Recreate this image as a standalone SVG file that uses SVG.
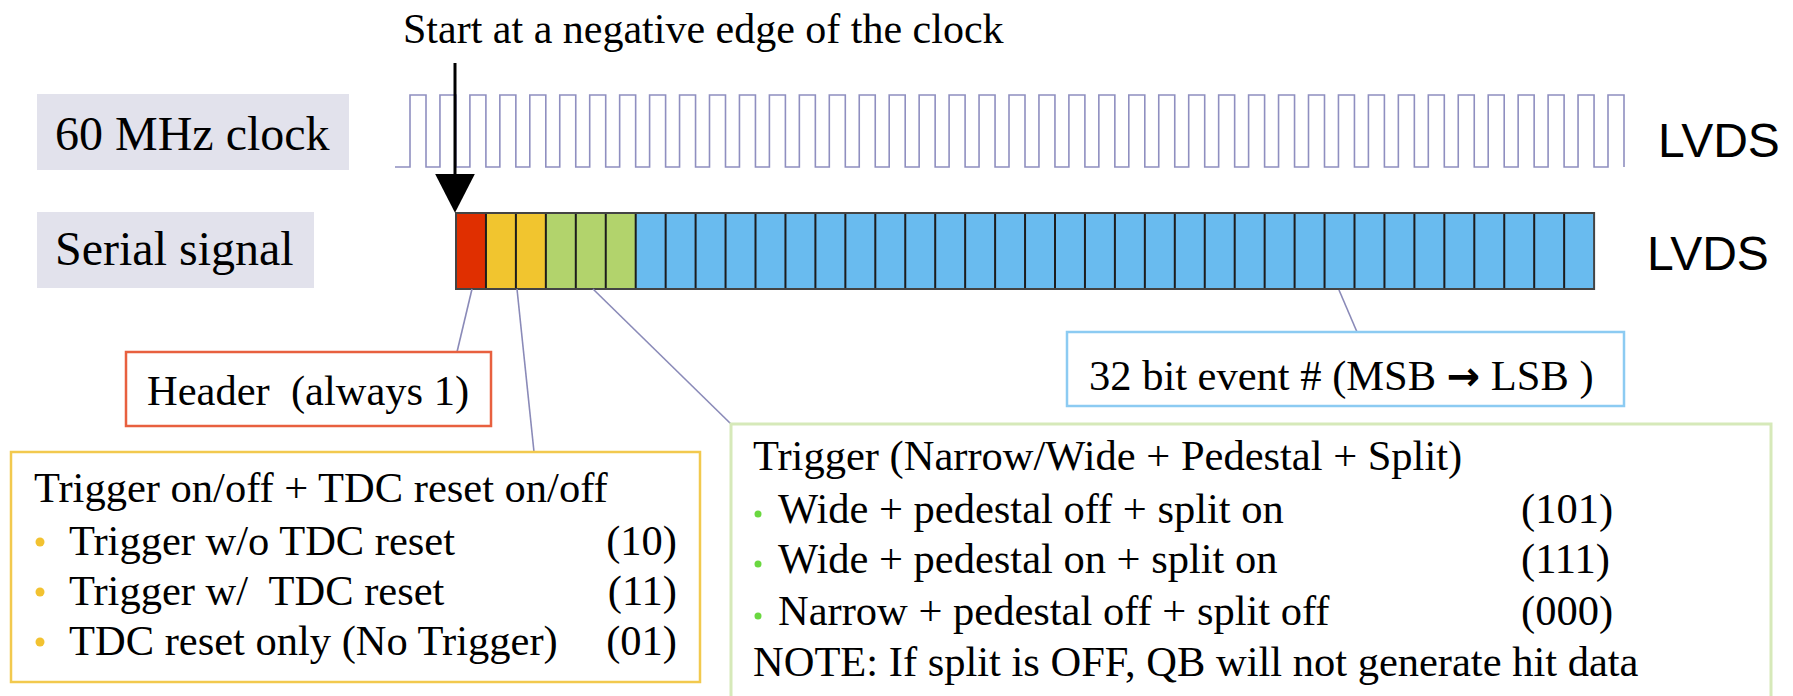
<svg xmlns="http://www.w3.org/2000/svg" width="1793" height="696" viewBox="0 0 1793 696">
  <style>
    .serif { font-family: "Liberation Serif", "Times New Roman", serif; fill: #000; }
    .lbl { font-size: 48px; }
    .txt { font-size: 42.5px; white-space: pre; }
    .sans { font-family: "Liberation Sans", Arial, sans-serif; font-size: 48px; fill: #000; }
    .lblbox { fill: #e2e2ec; stroke: none; }
    .conn { stroke: #8a8ab8; stroke-width: 1.6; fill: none; }
    .div { stroke: #1c1c1c; stroke-width: 2; fill: none; }
  </style>
  <defs>
    <marker id="ah" markerUnits="userSpaceOnUse" markerWidth="40" markerHeight="40" viewBox="0 0 38 38" refX="25" refY="19" orient="auto">
      <path d="M0,0 L37,19 L0,38 z" fill="#000"/>
    </marker>
  </defs>
  <rect width="1793" height="696" fill="#fff"/>

  <g id="title">
    <text class="serif" x="403" y="43" font-size="42">Start at a negative edge of the clock</text>
  </g>

  <g id="clock-label">
    <rect class="lblbox" x="37" y="94" width="312" height="76"/>
    <text class="serif lbl" x="55" y="150">60 MHz clock</text>
  </g>
  <g id="serial-label">
    <rect class="lblbox" x="37" y="212" width="277" height="76"/>
    <text class="serif lbl" x="55" y="265">Serial signal</text>
  </g>

  <g id="clock">
    <path fill="none" stroke="#8f8fc0" stroke-width="1.6" d="M395,167 H410 V95 h16 V167
      h13.95V95h16V167 h13.95V95h16V167 h13.95V95h16V167 h13.95V95h16V167 h13.95V95h16V167 h13.95V95h16V167 h13.95V95h16V167 h13.95V95h16V167 h13.95V95h16V167 h13.95V95h16V167
      h13.95V95h16V167 h13.95V95h16V167 h13.95V95h16V167 h13.95V95h16V167 h13.95V95h16V167 h13.95V95h16V167 h13.95V95h16V167 h13.95V95h16V167 h13.95V95h16V167 h13.95V95h16V167
      h13.95V95h16V167 h13.95V95h16V167 h13.95V95h16V167 h13.95V95h16V167 h13.95V95h16V167 h13.95V95h16V167 h13.95V95h16V167 h13.95V95h16V167 h13.95V95h16V167 h13.95V95h16V167
      h13.95V95h16V167 h13.95V95h16V167 h13.95V95h16V167 h13.95V95h16V167 h13.95V95h16V167 h13.95V95h16V167 h13.95V95h16V167 h13.95V95h16V167 h13.95V95h16V167 h13.95V95h16V167"/>
  </g>

  <g id="lvds-clock"><text class="sans" x="1658" y="157">LVDS</text></g>
  <g id="lvds-serial"><text class="sans" x="1647" y="270" font-size="47">LVDS</text></g>

  <g id="serial-bar">
    <rect x="456" y="213" width="29.95" height="76" fill="#e02f00"/>
    <rect x="485.95" y="213" width="59.9" height="76" fill="#f1c52f"/>
    <rect x="545.85" y="213" width="89.85" height="76" fill="#b2d36c"/>
    <rect x="635.7" y="213" width="958.4" height="76" fill="#69bbef"/>
    <path class="div" d="M485.95,213V289 M515.9,213V289 M545.85,213V289 M575.8,213V289 M605.75,213V289 M635.7,213V289 M665.65,213V289 M695.6,213V289 M725.55,213V289 M755.5,213V289 M785.45,213V289 M815.4,213V289 M845.35,213V289 M875.3,213V289 M905.25,213V289 M935.2,213V289 M965.15,213V289 M995.1,213V289 M1025.05,213V289 M1055,213V289 M1084.95,213V289 M1114.9,213V289 M1144.85,213V289 M1174.8,213V289 M1204.75,213V289 M1234.7,213V289 M1264.65,213V289 M1294.6,213V289 M1324.55,213V289 M1354.5,213V289 M1384.45,213V289 M1414.4,213V289 M1444.35,213V289 M1474.3,213V289 M1504.25,213V289 M1534.2,213V289 M1564.15,213V289"/>
    <rect x="456" y="213" width="1138.1" height="76" fill="none" stroke="#444" stroke-width="2"/>
  </g>

  <g id="connectors">
    <line x1="455" y1="63" x2="455" y2="200" stroke="#000" stroke-width="3" marker-end="url(#ah)"/>
    <line class="conn" x1="472" y1="289" x2="457" y2="352"/>
    <line class="conn" x1="517" y1="289" x2="534" y2="452"/>
    <line class="conn" x1="593" y1="289" x2="731" y2="424"/>
    <line class="conn" x1="1339" y1="290" x2="1357" y2="332"/>
  </g>

  <g id="header-box">
    <rect x="126" y="352" width="365" height="74" fill="#fff" stroke="#e8603f" stroke-width="2.5"/>
    <text class="serif txt" x="147" y="405">Header  (always 1)</text>
  </g>

  <g id="trigger-tdc-box">
    <rect x="11" y="452" width="689" height="230" fill="#fff" stroke="#f2c94e" stroke-width="2.5"/>
    <text class="serif txt" x="34" y="502">Trigger on/off + TDC reset on/off</text>
    <g fill="#f2c230">
      <circle cx="40" cy="542" r="4.5"/>
      <circle cx="40" cy="592" r="4.5"/>
      <circle cx="40" cy="642" r="4.5"/>
    </g>
    <text class="serif txt" x="69" y="555">Trigger w/o TDC reset</text>
    <text class="serif txt" x="69" y="605">Trigger w/  TDC reset</text>
    <text class="serif txt" x="69" y="655">TDC reset only (No Trigger)</text>
    <text class="serif txt" x="677" y="555" text-anchor="end">(10)</text>
    <text class="serif txt" x="677" y="605" text-anchor="end">(11)</text>
    <text class="serif txt" x="677" y="655" text-anchor="end">(01)</text>
  </g>

  <g id="event-box">
    <rect x="1067" y="332" width="557" height="74" fill="#fff" stroke="#8ccbf2" stroke-width="2.5"/>
    <text class="serif txt" x="1089" y="390">32 bit event # (MSB <tspan font-family="'DejaVu Sans', sans-serif" font-weight="bold" font-size="40">→</tspan> LSB )</text>
  </g>

  <g id="trigger-type-box">
    <rect x="731" y="424" width="1040" height="290" fill="#fff" stroke="#d6e9b9" stroke-width="3"/>
    <text class="serif txt" x="753" y="470">Trigger (Narrow/Wide + Pedestal + Split)</text>
    <g fill="#6ad840">
      <circle cx="758" cy="514" r="3.5"/>
      <circle cx="758" cy="564" r="3.5"/>
      <circle cx="758" cy="616" r="3.5"/>
    </g>
    <text class="serif txt" x="778" y="523">Wide + pedestal off + split on</text>
    <text class="serif txt" x="778" y="573">Wide + pedestal on + split on</text>
    <text class="serif txt" x="778" y="625">Narrow + pedestal off + split off</text>
    <text class="serif txt" x="1521" y="523">(101)</text>
    <text class="serif txt" x="1521" y="573">(111)</text>
    <text class="serif txt" x="1521" y="625">(000)</text>
    <text class="serif txt" x="753" y="676">NOTE: If split is OFF, QB will not generate hit data</text>
  </g>
</svg>
